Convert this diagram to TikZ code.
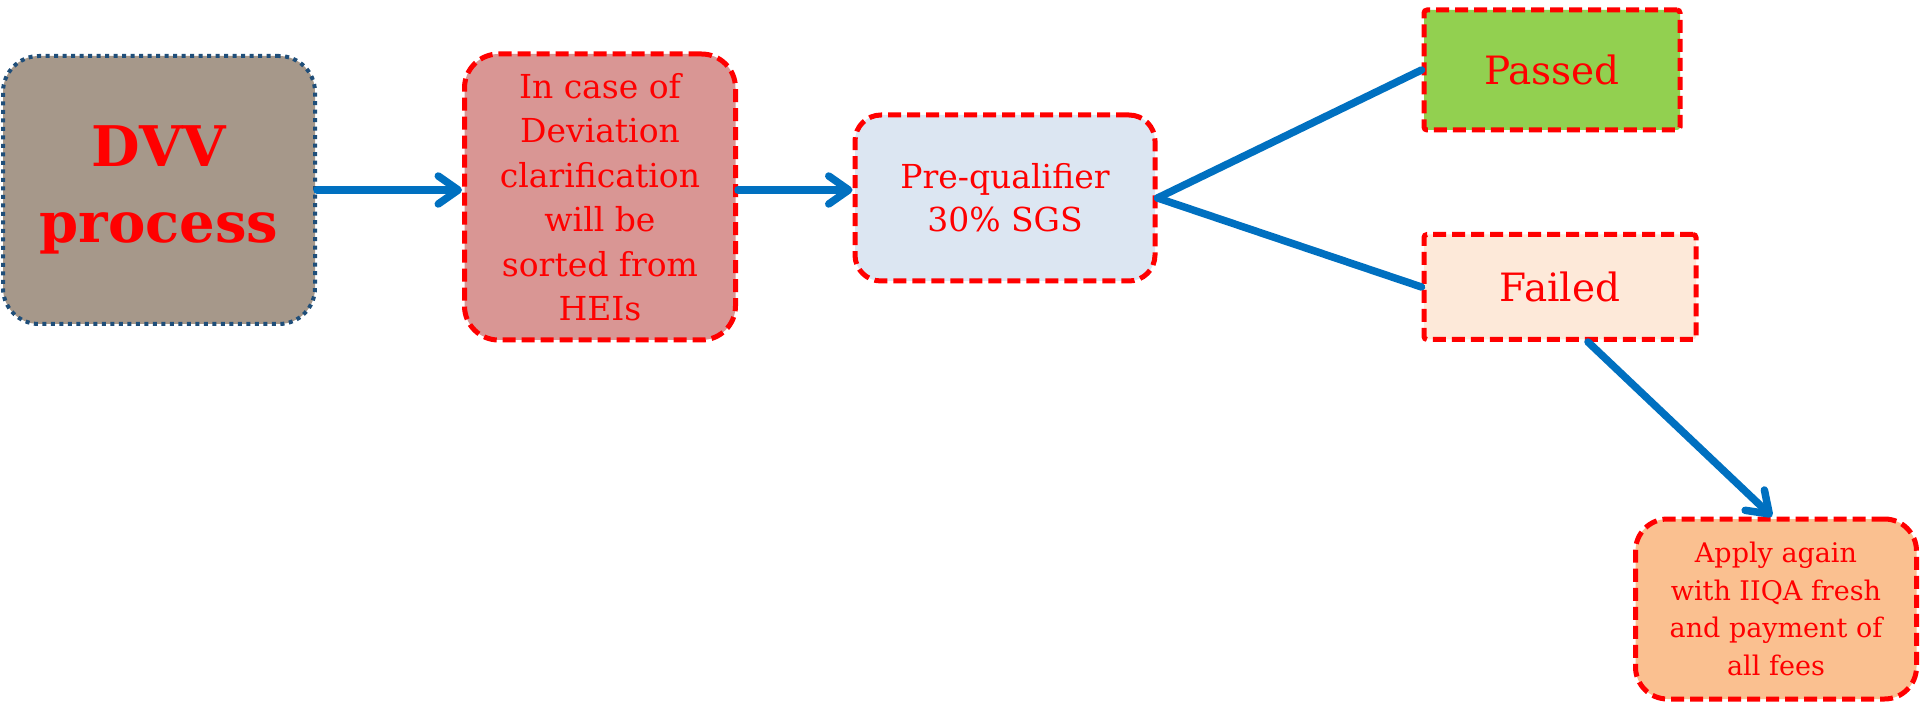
\documentclass[tikz,border=0pt]{standalone}
\usepackage{fontspec}
\setmainfont{DejaVu Serif}
\usepackage{tikz}
\usetikzlibrary{arrows.meta}
\definecolor{flowblue}{RGB}{0,112,192}
\definecolor{dvvborder}{RGB}{31,78,121}
\definecolor{dvvfill}{RGB}{166,152,138}
\definecolor{devfill}{RGB}{217,150,148}
\definecolor{prefill}{RGB}{220,230,242}
\definecolor{passfill}{RGB}{146,208,80}
\definecolor{failfill}{RGB}{253,233,217}
\definecolor{applyfill}{RGB}{250,192,144}

\begin{document}
\begin{tikzpicture}[x=1pt,y=-1pt,
  stagebox/.style={draw=red,line width=5pt,dash pattern=on 13pt off 6pt,
    text=red,align=center,inner sep=0pt,rounded corners=#1},
  stagebox/.default=30pt,
  flowline/.style={flowblue,line width=7.5pt,line cap=round},
  flow/.style={flowline,-{Straight Barb[length=20pt,width=28pt,line cap=round,line join=round]}}]
  \useasboundingbox (0,0) rectangle (1920,703);
  % ---- stages
  \node[draw=dvvborder,line width=4pt,dash pattern=on 4pt off 4.5pt,fill=dvvfill,
    rounded corners=36pt,minimum width=312pt,minimum height=268pt,inner sep=0pt,
    text=red,align=center,font=\fontsize{56}{76}\selectfont\bfseries]
    (dvv) at (159,190) {DVV\\process};
  \node[stagebox=34pt,fill=devfill,minimum width=271pt,minimum height=286pt,
    font=\fontsize{33}{44.5}\selectfont]
    (dev) at (600,197) {In case of\\Deviation\\clarification\\will be\\sorted from\\HEIs};
  \node[stagebox=26pt,fill=prefill,minimum width=300pt,minimum height=166pt,
    font=\fontsize{33}{43}\selectfont]
    (pre) at (1005,198) {Pre-qualifier\\30\% SGS};
  \node[stagebox=3pt,fill=passfill,minimum width=256pt,minimum height=120pt,
    font=\fontsize{39}{46}\selectfont]
    (passed) at (1552,70) {Passed};
  \node[stagebox=3pt,fill=failfill,minimum width=272pt,minimum height=105pt,
    font=\fontsize{39}{46}\selectfont]
    (failed) at (1560,287) {Failed};
  \node[stagebox=32pt,fill=applyfill,minimum width=281pt,minimum height=180pt,
    font=\fontsize{27}{37.5}\selectfont]
    (apply) at (1776,609) {Apply again\\with IIQA fresh\\and payment of\\all fees};
  % ---- connectors
  \draw[flow] (dvv.east) -- (dvv.east -| dev.west);
  \draw[flow] (dev.east |- dvv.east) -- (dvv.east -| pre.west);
  \draw[flowline] (pre.east) -- (passed.west);
  \draw[flowline] (pre.east) -- (failed.west);
  \draw[flow] ([xshift=28pt]failed.south) -- ([xshift=-4pt]apply.north);
\end{tikzpicture}
\end{document}
